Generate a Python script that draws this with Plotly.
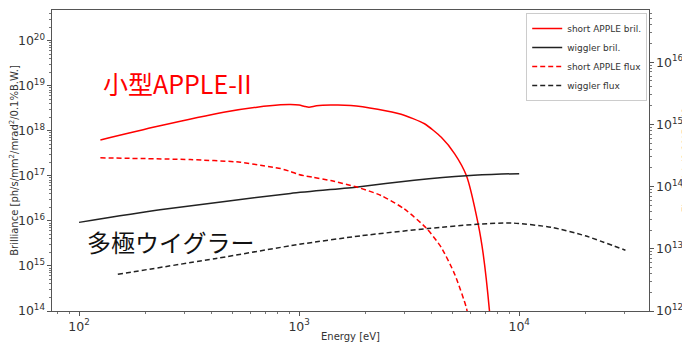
import plotly.graph_objects as go

# Short APPLE brilliance (left axis)
apple_bril_E = [125, 225, 454, 644, 823, 914, 1000, 1060, 1109, 1200, 1393, 1719, 2275, 2908, 3715, 4427, 5093, 5756, 6513, 6863, 7330, 7600]
apple_bril_B = [6.3e17, 1.25e18, 2.6e18, 3.37e18, 3.81e18, 3.87e18, 3.75e18, 3.5e18, 3.37e18, 3.6e18, 3.74e18, 3.68e18, 3.04e18, 2.35e18, 1.44e18, 7.2e17, 3.1e17, 1.02e17, 8.5e15, 1.85e15, 1.0e14, 1.0e13]

# Wiggler brilliance (left axis)
wig_bril_E = [100, 233, 914, 1845, 3335, 5750, 8320, 10000]
wig_bril_B = [9.3e15, 1.77e16, 4.09e16, 5.71e16, 8.0e16, 1.01e17, 1.10e17, 1.12e17]

# Short APPLE flux (right axis)
apple_flux_E = [125, 320, 541, 667, 760, 823, 914, 990, 1052, 1150, 1393, 1845, 2355, 3000, 3781, 4427, 5093, 5756, 5900, 6100]
apple_flux_F = [2.9e14, 2.72e14, 2.47e14, 2.2e14, 2.05e14, 1.95e14, 1.75e14, 1.58e14, 1.5e14, 1.42e14, 1.25e14, 9.75e13, 7.2e13, 4.4e13, 2.16e13, 1.05e13, 3.9e12, 1.13e12, 7e11, 3e11]

# Wiggler flux (right axis)
wig_flux_E = [150, 420, 1000, 1910, 3845, 6620, 9250, 14070, 19950, 30400]
wig_flux_F = [3.9e12, 7.0e12, 1.18e13, 1.62e13, 2.12e13, 2.5e13, 2.6e13, 2.21e13, 1.62e13, 9.5e12]

RED = "#ff0000"
BLK = "#222222"

fig = go.Figure()
fig.add_trace(go.Scatter(x=apple_bril_E, y=apple_bril_B, mode="lines", name="short APPLE bril.",
                         line=dict(color=RED, width=1.5, shape="spline", smoothing=0.6)))
fig.add_trace(go.Scatter(x=wig_bril_E, y=wig_bril_B, mode="lines", name="wiggler bril.",
                         line=dict(color=BLK, width=1.5, shape="spline", smoothing=0.6)))
fig.add_trace(go.Scatter(x=apple_flux_E, y=apple_flux_F, mode="lines", name="short APPLE flux", yaxis="y2",
                         line=dict(color=RED, width=1.5, dash="5px,3px", shape="spline", smoothing=0.6)))
fig.add_trace(go.Scatter(x=wig_flux_E, y=wig_flux_F, mode="lines", name="wiggler flux", yaxis="y2",
                         line=dict(color=BLK, width=1.5, dash="5px,3px", shape="spline", smoothing=0.6)))

axis_common = dict(
    showline=True, linecolor="#555555", linewidth=1, ticks="outside", ticklen=4, tickcolor="#555555",
    showgrid=False, zeroline=False, exponentformat="power", dtick=1, automargin=False,
    tickfont=dict(family="DejaVu Sans", size=10, color="#333333"),
    minor=dict(ticks="outside", ticklen=2, tickcolor="#777777", showgrid=False),
)

# page body has an 8px default margin, so the figure is sized to end at the window edge
fig.update_layout(
    width=682, height=334,
    margin=dict(l=44, r=41, t=2, b=31),
    paper_bgcolor="white", plot_bgcolor="white",
    font=dict(family="DejaVu Sans", size=10, color="#333333"),
    xaxis=dict(type="log", range=[1.877, 4.59], mirror=True,
               title=dict(text="Energy [eV]", font=dict(size=10), standoff=2), **axis_common),
    yaxis=dict(type="log", range=[14, 20.685],
               title=dict(text="Brilliance [ph/s/mm<sup>2</sup>/mrad<sup>2</sup>/0.1%B.W.]", font=dict(size=10), standoff=6),
               **axis_common),
    yaxis2=dict(type="log", range=[12, 16.84], overlaying="y", side="right", **axis_common),
    legend=dict(x=0.997, y=0.99, xanchor="right", yanchor="top", bgcolor="white",
                bordercolor="#cccccc", borderwidth=1, font=dict(size=9, color="#333333"),
                tracegroupgap=0, itemwidth=30),
    showlegend=True,
)

# right axis title placed close to the window edge, as in the reference
fig.add_annotation(text="Flux [ph/s/0.1%B.W.]", xref="paper", yref="paper", x=(678 - 44) / 597, y=0.5,
                   xanchor="center", yanchor="middle", textangle=-90, showarrow=False,
                   font=dict(family="DejaVu Sans", size=10, color="#333333"))

fig.add_annotation(text="小型APPLE-II", xref="paper", yref="paper", x=(101 - 52) / 597, y=(311 - 83) / 301,
                   xanchor="left", yanchor="middle", showarrow=False,
                   font=dict(family="Noto Sans CJK JP", size=25, color=RED))
fig.add_annotation(text="多極ウイグラー", xref="paper", yref="paper", x=(85 - 52) / 597, y=(311 - 241) / 301,
                   xanchor="left", yanchor="middle", showarrow=False,
                   font=dict(family="Noto Sans CJK JP", size=24, color="#111111"))

fig.write_html("out.html")
